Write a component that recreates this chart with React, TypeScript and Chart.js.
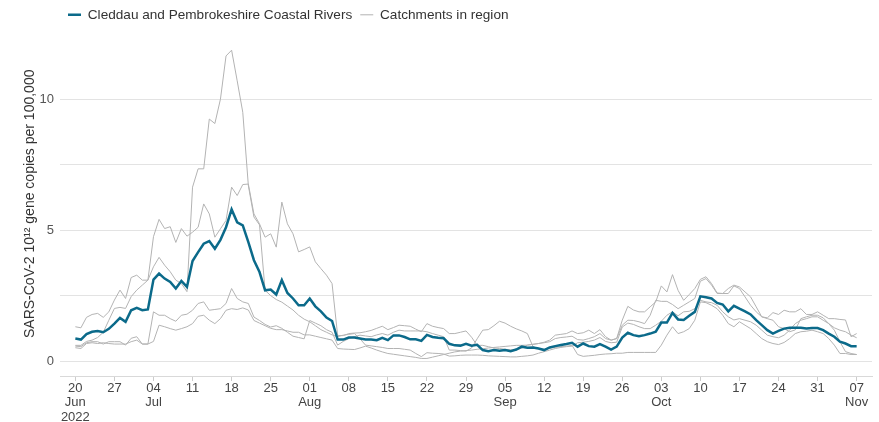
import React, { useEffect, useRef } from "react";
import { Chart, registerables } from "chart.js";

Chart.register(...registerables);

// Daily values, first day 2022-06-20 (index 0) to 2022-11-07 (index 140)
const startDate = "2022-06-20";

const cleddau = [
  0.86, 0.82, 1.03, 1.12, 1.15, 1.10, 1.23,
  1.43, 1.65, 1.50, 1.94, 2.03, 1.94, 1.97,
  3.11, 3.34, 3.15, 3.02, 2.77, 3.06, 2.83,
  3.82, 4.16, 4.48, 4.58, 4.29, 4.63, 5.11,
  5.79, 5.30, 5.18, 4.54, 3.85, 3.40, 2.70,
  2.73, 2.54, 3.09, 2.60, 2.39, 2.13, 2.13,
  2.39, 2.09, 1.90, 1.66, 1.53, 0.82, 0.82,
  0.90, 0.90, 0.86, 0.82, 0.82, 0.80, 0.89,
  0.80, 0.98, 0.98, 0.92, 0.83, 0.83, 0.77,
  1.00, 0.92, 0.89, 0.87, 0.66, 0.60, 0.59,
  0.66, 0.59, 0.62, 0.42, 0.38, 0.42, 0.39,
  0.42, 0.38, 0.44, 0.55, 0.51, 0.52, 0.48,
  0.42, 0.52, 0.57, 0.61, 0.65, 0.70, 0.55,
  0.67, 0.57, 0.55, 0.65, 0.55, 0.44, 0.55,
  0.90, 1.08, 0.99, 0.95, 0.99, 1.05, 1.12,
  1.47, 1.47, 1.84, 1.59, 1.57, 1.73, 1.88,
  2.47, 2.44, 2.39, 2.22, 2.16, 1.90, 2.11,
  2.00, 1.90, 1.78, 1.56, 1.37, 1.18, 1.05,
  1.15, 1.24, 1.27, 1.27, 1.27, 1.24, 1.26,
  1.26, 1.18, 1.05, 0.93, 0.74, 0.67, 0.57,
  0.57,
];

const catchmentA = [
  0.60, 0.60, 0.75, 0.80, 0.90, 1.10, 1.56,
  2.01, 2.05, 2.01, 2.46, 2.71, 2.90, 3.09,
  3.60, 3.96, 3.66, 3.41, 3.09, 2.96, 2.65,
  6.64, 7.34, 7.34, 9.24, 9.07, 10.00, 11.65,
  11.87, 10.70, 9.50, 6.70, 5.50, 5.20, 2.70,
  2.50, 2.35, 2.25, 2.10, 1.95, 1.75, 1.60,
  1.50, 1.35, 1.20, 1.10, 1.00, 0.93, 0.99,
  1.02, 1.05, 0.85, 0.61, 0.58, 0.55, 0.52,
  0.48, 0.48, 0.48, 0.45, 0.42, 0.29, 0.17,
  0.32, 0.30, 0.29, 0.27, 0.19, 0.20, 0.22,
  0.23, 0.23, 0.23, 0.22, 0.20, 0.19, 0.18,
  0.17, 0.16, 0.16, 0.18, 0.20, 0.23, 0.30,
  0.36, 0.42, 0.48, 0.52, 0.55, 0.57, 0.70,
  0.72, 0.75, 0.80, 0.90, 0.75, 0.70, 0.72,
  1.30, 1.45, 1.40, 1.31, 1.24, 1.24, 1.37,
  1.52, 1.75, 1.88, 1.73, 1.88, 1.90, 2.00,
  2.32, 2.26, 2.23, 2.13, 1.88, 1.69, 1.57,
  1.62, 1.56, 1.50, 1.37, 1.18, 0.99, 0.93,
  0.89, 0.99, 1.18, 1.43, 1.56, 1.62, 1.69,
  1.69, 1.56, 1.43, 1.18, 0.74, 0.36, 0.29,
  0.25,
];

const catchmentB = [
  1.31, 1.27, 1.67, 1.78, 1.82, 1.67, 1.88,
  2.33, 2.71, 2.39, 3.19, 3.28, 3.09, 3.09,
  4.75, 5.41, 5.06, 5.13, 4.53, 5.06, 4.77,
  4.92, 5.11, 6.00, 5.62, 4.73, 5.05, 5.37,
  6.64, 6.32, 6.74, 6.76, 5.62, 5.24, 4.73,
  4.86, 4.35, 6.07, 5.24, 4.86, 4.17, 4.26,
  4.36, 3.79, 3.53, 3.28, 2.96, 0.98, 0.97,
  1.05, 1.07, 1.08, 1.12, 1.17, 1.25, 1.33,
  1.20, 1.28, 1.37, 1.35, 1.33, 1.22, 1.12,
  1.43, 1.33, 1.28, 1.24, 1.05, 1.05, 1.10,
  1.15, 0.91, 0.60, 0.60, 0.55, 0.50, 0.48,
  0.45, 0.43, 0.42, 0.50, 0.61, 0.64, 0.67,
  0.72, 0.80, 0.99, 1.02, 1.05, 1.15, 1.05,
  1.08, 1.18, 1.05, 1.20, 0.93, 0.80, 0.86,
  1.56, 2.09, 1.95, 1.88, 1.88, 2.07, 2.26,
  2.87, 2.64, 3.30, 2.70, 2.32, 2.54, 2.77,
  3.12, 3.22, 2.96, 2.60, 2.58, 2.58, 2.87,
  2.77, 2.45, 2.13, 1.88, 1.69, 1.65, 1.85,
  1.78, 1.94, 1.88, 1.88, 2.00, 1.78, 1.78,
  1.88, 1.75, 1.62, 1.62, 1.59, 1.57, 0.93,
  1.05,
];

const catchmentC = [
  0.57, 0.55, 0.70, 0.74, 0.74, 0.65, 0.74,
  0.74, 0.74, 0.61, 0.87, 0.93, 0.65, 0.65,
  1.88, 1.75, 1.75, 1.62, 1.52, 1.75, 1.79,
  1.94, 2.20, 2.26, 1.94, 1.97, 2.00, 2.20,
  2.77, 2.39, 2.26, 2.20, 1.68, 1.55, 1.40,
  1.30, 1.35, 1.25, 1.10, 0.95, 0.90, 0.85,
  1.55, 1.45, 1.35, 1.20, 1.10, 0.61, 0.75,
  0.86, 0.93, 0.99, 0.96, 0.93, 1.00, 1.05,
  0.99, 1.10, 1.18, 1.15, 1.15, 1.15, 1.15,
  1.12, 1.05, 0.99, 0.93, 0.42, 0.42, 0.40,
  0.38, 0.50, 0.85, 1.18, 1.20, 1.35, 1.52,
  1.45, 1.33, 1.23, 1.15, 1.05, 0.55, 0.47,
  0.45, 0.50, 0.52, 0.55, 0.57, 0.60, 0.25,
  0.18, 0.20, 0.22, 0.25, 0.27, 0.28, 0.30,
  0.30, 0.33, 0.33, 0.33, 0.33, 0.33, 0.33,
  0.61, 0.99, 1.31, 1.05, 1.12, 1.24, 1.56,
  2.26, 2.23, 2.13, 2.00, 1.75, 1.43, 1.31,
  1.50, 1.37, 1.24, 1.05, 0.86, 0.74, 0.67,
  0.63, 0.71, 0.86, 1.05, 1.12, 1.14, 1.18,
  1.12, 1.05, 0.86, 0.61, 0.29, 0.29, 0.25,
  0.25,
];

const catchmentD = [
  0.51, 0.48, 0.67, 0.70, 0.67, 0.70, 0.67,
  0.65, 0.65, 0.65, 0.74, 0.80, 0.65, 0.65,
  0.75, 1.37, 1.31, 1.24, 1.18, 1.24, 1.31,
  1.43, 1.71, 1.75, 1.56, 1.43, 1.62, 1.94,
  2.00, 1.97, 2.03, 1.95, 1.55, 1.45, 1.35,
  1.25, 1.20, 1.20, 1.15, 1.10, 1.10, 1.00,
  1.00, 0.95, 0.90, 0.85, 0.80, 0.48, 0.46,
  0.45, 0.44, 0.50, 0.57, 0.50, 0.42, 0.35,
  0.29, 0.26, 0.23, 0.20, 0.17, 0.14, 0.10,
  0.10, 0.15, 0.20, 0.25, 0.30, 0.35, 0.38,
  0.40, 0.42, 0.45, 0.47, 0.50, 0.52, 0.54,
  0.56, 0.58, 0.60, 0.60, 0.61, 0.64, 0.67,
  0.70, 0.74, 0.86, 0.90, 0.92, 0.95, 0.82,
  0.80, 0.86, 0.93, 1.05, 0.86, 0.80, 0.86,
  1.37, 1.56, 1.55, 1.50, 1.43, 1.75, 2.32,
  2.28, 2.28, 2.16, 2.00, 2.13, 2.26, 2.39,
  3.05, 3.15, 2.90, 2.58, 2.58, 2.77, 2.90,
  2.83, 2.64, 2.45, 2.07, 1.69, 1.62, 1.56,
  1.31, 1.24, 1.12, 1.19, 1.62, 1.69, 1.75,
  1.75, 1.65, 1.43, 1.27, 1.18, 1.12, 0.99,
  0.89,
];

// Weekly tick labels (every 7 days from the start date)
const tickDays = ["20", "27", "04", "11", "18", "25", "01", "08", "15", "22", "29", "05", "12", "19", "26", "03", "10", "17", "24", "31", "07"];
const tickMonths = ["Jun", "", "Jul", "", "", "", "Aug", "", "", "", "", "Sep", "", "", "", "Oct", "", "", "", "", "Nov"];
const tickYears = ["2022", "", "", "", "", "", "", "", "", "", "", "", "", "", "", "", "", "", "", "", ""];
const yGridValues = [0, 2.5, 5, 7.5, 10];
const yLabelledValues = [0, 5, 10];

const mainLabel = "Cleddau and Pembrokeshire Coastal Rivers";
const otherLabel = "Catchments in region";
const yTitle = "SARS-CoV-2 10¹² gene copies per 100,000";

const TEAL = "#0b6a8a";
const GREY = "#b3b3b3";
const FONT = "'Liberation Sans', Arial, Helvetica, sans-serif";

export default function App() {
  const ref = useRef<HTMLCanvasElement | null>(null);

  useEffect(() => {
    if (!ref.current) return;
    void startDate;
    const toPts = (arr: number[]) => arr.map((y, i) => ({ x: i, y }));
    const greys = [catchmentA, catchmentB, catchmentC, catchmentD];
    const chart = new Chart(ref.current, {
      type: "line",
      data: {
        datasets: [
          {
            label: mainLabel,
            data: toPts(cleddau),
            borderColor: TEAL,
            backgroundColor: TEAL,
            borderWidth: 2.5,
            pointRadius: 0,
            tension: 0,
          },
          ...greys.map((g) => ({
            label: otherLabel,
            data: toPts(g),
            borderColor: GREY,
            backgroundColor: GREY,
            borderWidth: 1,
            pointRadius: 0,
            tension: 0,
          })),
        ],
      },
      options: {
        responsive: false,
        animation: false,
        layout: { padding: { left: 0, right: 7, top: 0, bottom: 0 } },
        plugins: {
          legend: {
            position: "top",
            align: "start",
            fullSize: false,
            labels: {
              usePointStyle: true,
              pointStyle: "line",
              pointStyleWidth: 13,
              boxHeight: 13,
              padding: 8,
              color: "#333333",
              font: { family: FONT, size: 13.6 },
              filter: (item: any) => item.datasetIndex <= 1,
            },
          },
          tooltip: { enabled: false },
        },
        scales: {
          x: {
            type: "linear",
            min: -2.75,
            max: 142.75,
            afterBuildTicks: (s: any) => {
              s.ticks = tickDays.map((_, i) => ({ value: i * 7 }));
            },
            afterFit: (s: any) => {
              s.height = 46;
            },
            ticks: {
              autoSkip: false,
              maxRotation: 0,
              minRotation: 0,
              padding: 0,
              color: "#444444",
              font: { family: FONT, size: 13, lineHeight: 1.12 },
              callback: (_v: any, i: number) => {
                const parts = [tickDays[i], tickMonths[i], tickYears[i]].filter((p) => p);
                return parts.length === 1 ? parts[0] : parts;
              },
            },
            grid: {
              drawOnChartArea: false,
              drawTicks: true,
              tickLength: 5,
              color: "#cccccc",
            },
            border: { display: true, color: "#d9d9d9" },
          },
          y: {
            min: -0.57,
            max: 12.58,
            afterBuildTicks: (s: any) => {
              s.ticks = yGridValues.map((v) => ({ value: v }));
            },
            afterFit: (s: any) => {
              s.width = 60;
            },
            ticks: {
              padding: 6,
              color: "#555555",
              font: { family: FONT, size: 13 },
              callback: (v: any) => (yLabelledValues.includes(Number(v)) ? String(v) : ""),
            },
            grid: { color: "#e3e3e3", drawTicks: false },
            border: { display: false },
            title: {
              display: true,
              text: yTitle,
              color: "#333333",
              font: { family: FONT, size: 14 },
              padding: { top: 22, bottom: 0 },
            },
          },
        },
      },
    } as any);
    return () => chart.destroy();
  }, []);

  return (
    <div style={{ position: "fixed", left: 0, top: 0, width: 879, height: 422, background: "#ffffff" }}>
      <canvas ref={ref} width={879} height={422} style={{ display: "block" }} />
    </div>
  );
}
